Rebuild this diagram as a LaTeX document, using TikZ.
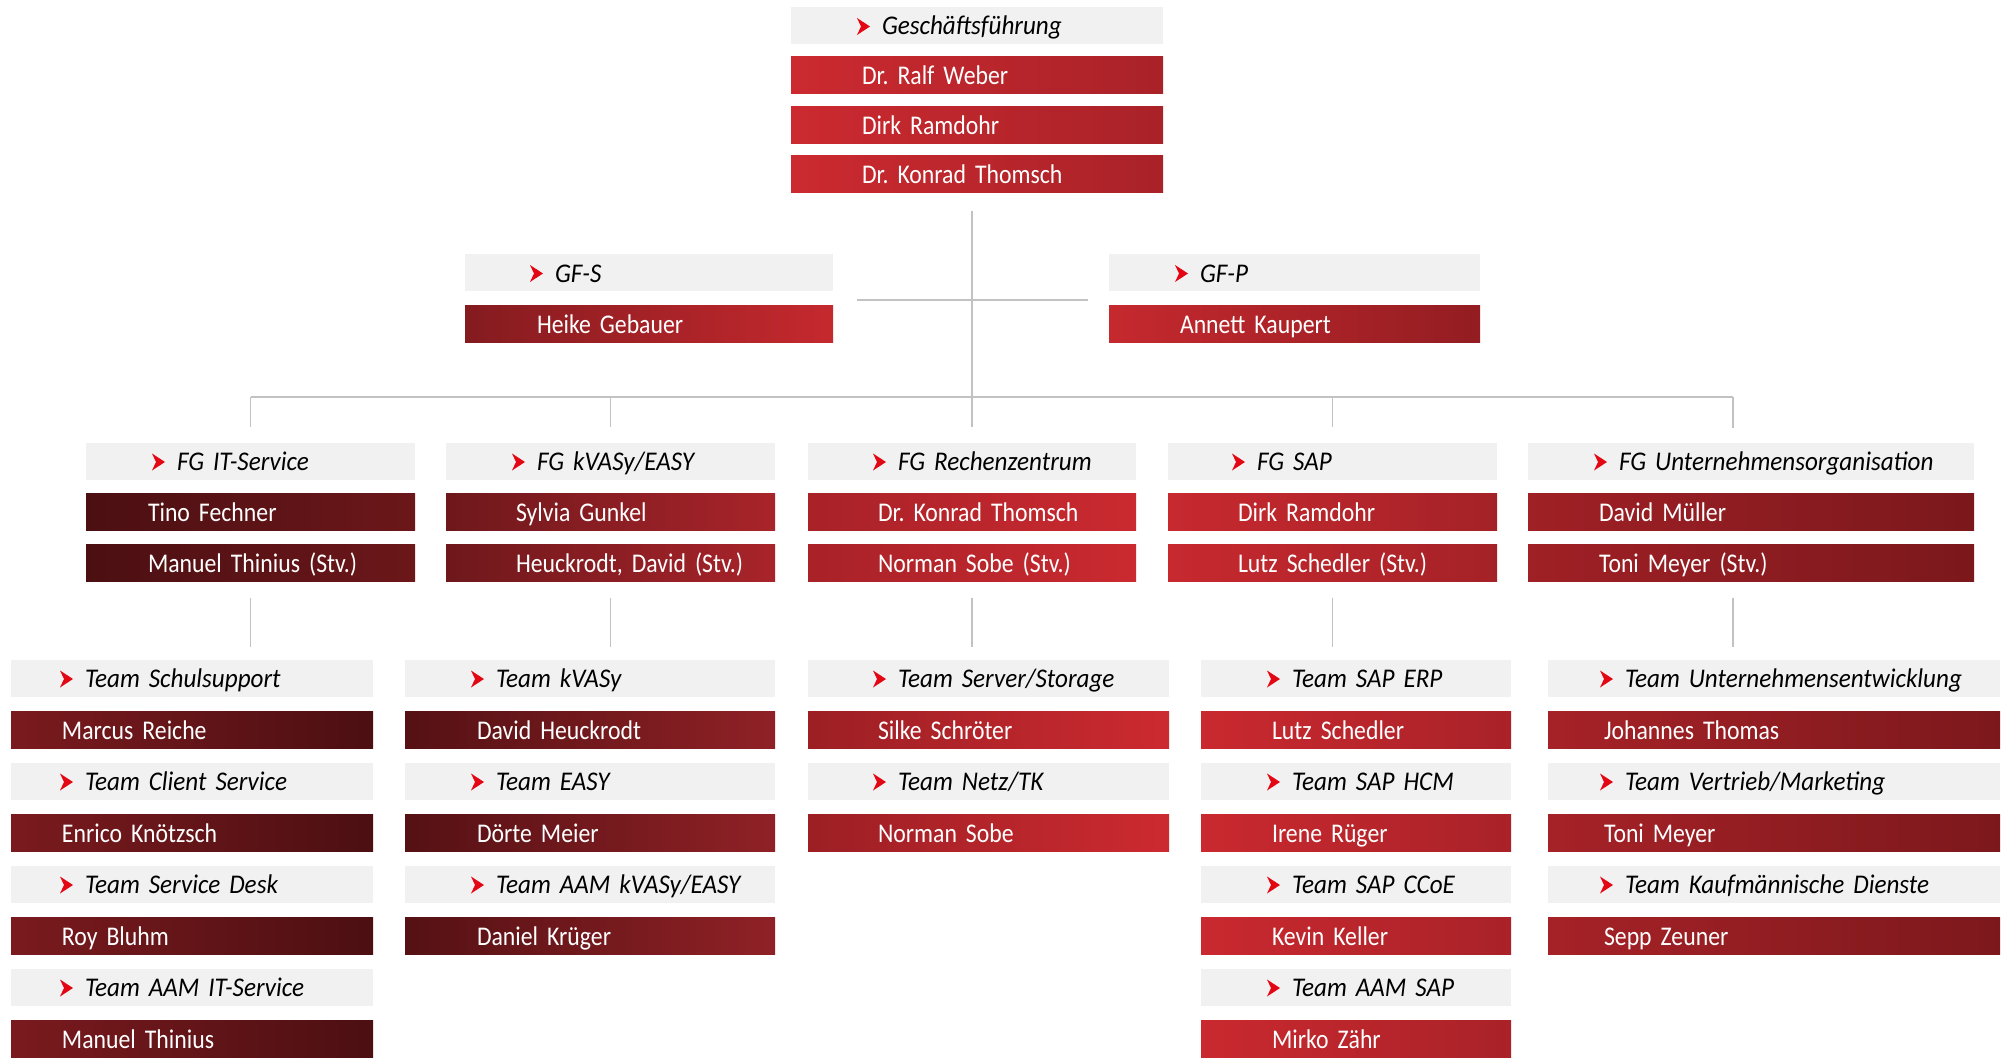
\documentclass[tikz,border=0pt]{standalone}
\usepackage{fontspec}
\setmainfont{Carlito}[FakeStretch=0.88, ItalicFeatures={FakeStretch=0.93}]
\usepackage{tikz}
\usetikzlibrary{positioning,calc}
\frenchspacing

\definecolor{headgray}{HTML}{F1F1F1}
\definecolor{arrowred}{HTML}{E30613}
\definecolor{linegray}{HTML}{C2C2C2}
% left / right shades of the red boxes
\definecolor{gfl}{HTML}{CB2A30}  \definecolor{gfr}{HTML}{A92228}
\definecolor{gfsl}{HTML}{841B1F} \definecolor{gfsr}{HTML}{C5292E}
\definecolor{gfpl}{HTML}{C5292E} \definecolor{gfpr}{HTML}{931D22}
\definecolor{fgal}{HTML}{4B0F12} \definecolor{fgar}{HTML}{6C171A}
\definecolor{fgbl}{HTML}{6E181C} \definecolor{fgbr}{HTML}{A8242A}
\definecolor{fgcl}{HTML}{A82228} \definecolor{fgcr}{HTML}{CA2A30}
\definecolor{fgdl}{HTML}{C7292F} \definecolor{fgdr}{HTML}{A42227}
\definecolor{fgel}{HTML}{9F2025} \definecolor{fger}{HTML}{7B181C}
\definecolor{tmal}{HTML}{7A1A1E} \definecolor{tmar}{HTML}{4C0F12}
\definecolor{tmbl}{HTML}{551114} \definecolor{tmbr}{HTML}{8F2126}
\definecolor{tmcl}{HTML}{9C1F24} \definecolor{tmcr}{HTML}{CC2A30}
\definecolor{tmdl}{HTML}{C9292F} \definecolor{tmdr}{HTML}{A92228}
\definecolor{tmel}{HTML}{A62227} \definecolor{tmer}{HTML}{7C181C}

\newcommand{\headarrow}{\tikz[x=1pt,y=1pt,baseline=0pt]\fill[arrowred] (0,0) -- (13,8.5) -- (0,17) -- (4,8.5) -- cycle;}
\newcommand{\boxstrut}{\rule[-7pt]{0pt}{33pt}}
\tikzset{nind/.store in=\nameind, hind/.store in=\headind, nind=70pt, hind=65pt}

\begin{document}
\begin{tikzpicture}[x=1pt, y=-1pt, node distance=51pt]
\tikzstyle{orgbox}=[rectangle, inner sep=0pt, minimum height=37pt, align=left, font=\fontsize{27pt}{30pt}\selectfont]
\tikzstyle{dept}=[orgbox, fill=headgray, text=black, font=\fontsize{27pt}{30pt}\selectfont\itshape,
  execute at begin node={\hspace*{\headind}\headarrow\hspace*{12pt}\boxstrut}]
\tikzstyle{person}=[orgbox, text=white, execute at begin node={\hspace*{\nameind}\boxstrut}]
\tikzstyle{link}=[draw=linegray, line width=1.5pt]

\useasboundingbox (0,0) rectangle (2004,1057);

% Geschaeftsfuehrung
\begin{scope}[node distance=49.5pt, hind=66pt, nind=71pt, every node/.append style={text width=372pt},
  person/.append style={left color=gfl, right color=gfr}]
\node[dept]	(gf)	at (977,25.5)		{Geschäftsführung};
\node[person]	(weber)	[below of=gf]		{Dr. Ralf Weber};
\node[person]	(ramdohr)	[below of=weber]	{Dirk Ramdohr};
\node[person]	(thomsch)	[below of=ramdohr]	{Dr. Konrad Thomsch};
\end{scope}

\begin{scope}[nind=72pt, every node/.append style={text width=368pt}, person/.append style={left color=gfsl, right color=gfsr}]
\node[dept]	(gfs)	at (649,272.5)		{GF-S};
\node[person]	(gebauer)	[below of=gfs]		{Heike Gebauer};
\end{scope}
\begin{scope}[hind=66pt, nind=71pt, every node/.append style={text width=371pt}, person/.append style={left color=gfpl, right color=gfpr}]
\node[dept]	(gfp)	at (1294.5,272.5)	{GF-P};
\node[person]	(kaupert)	[below of=gfp]		{Annett Kaupert};
\end{scope}

% Fachgruppen
\begin{scope}[every node/.append style={text width=329pt}, person/.append style={left color=fgal, right color=fgar}, hind=66pt, nind=62pt]
\node[dept]	(fgit)	at (250.5,461)		{FG IT-Service};
\node[person]	(fechner)	[below of=fgit]		{Tino Fechner};
\node[person]	(thinius)	[below of=fechner]	{Manuel Thinius (Stv.)};
\end{scope}
\begin{scope}[every node/.append style={text width=329pt}, person/.append style={left color=fgbl, right color=fgbr}, hind=66pt]
\node[dept]	(fgkv)	at (610.5,461)		{FG kVASy/EASY};
\node[person]	(gunkel)	[below of=fgkv]		{Sylvia Gunkel};
\node[person]	(heuck)	[below of=gunkel]	{Heuckrodt, David (Stv.)};
\end{scope}
\begin{scope}[every node/.append style={text width=328pt}, person/.append style={left color=fgcl, right color=fgcr}]
\node[dept]	(fgrz)	at (972,461)		{FG Rechenzentrum};
\node[person]	(thomschrz)	[below of=fgrz]		{Dr. Konrad Thomsch};
\node[person]	(sobe)	[below of=thomschrz]	{Norman Sobe (Stv.)};
\end{scope}
\begin{scope}[every node/.append style={text width=329pt}, person/.append style={left color=fgdl, right color=fgdr}, hind=64pt]
\node[dept]	(fgsap)	at (1332.5,461)		{FG SAP};
\node[person]	(ramdohrsap)	[below of=fgsap]	{Dirk Ramdohr};
\node[person]	(schedler)	[below of=ramdohrsap]	{Lutz Schedler (Stv.)};
\end{scope}
\begin{scope}[every node/.append style={text width=446pt}, person/.append style={left color=fgel, right color=fger}, hind=66pt, nind=71pt]
\node[dept]	(fguo)	at (1751,461)		{FG Unternehmensorganisation};
\node[person]	(mueller)	[below of=fguo]		{David Müller};
\node[person]	(meyer)	[below of=mueller]	{Toni Meyer (Stv.)};
\end{scope}

% Teams
\begin{scope}[node distance=51.5pt, every node/.append style={text width=362pt}, person/.append style={left color=tmal, right color=tmar}, hind=49pt, nind=51pt]
\node[dept]	(schul)	at (192,678)		{Team Schulsupport};
\node[person]	(reiche)	[below of=schul]	{Marcus Reiche};
\node[dept]	(client)	[below of=reiche]	{Team Client Service};
\node[person]	(knoetzsch)	[below of=client]	{Enrico Knötzsch};
\node[dept]	(desk)	[below of=knoetzsch]	{Team Service Desk};
\node[person]	(bluhm)	[below of=desk]		{Roy Bluhm};
\node[dept]	(aamit)	[below of=bluhm]	{Team AAM IT-Service};
\node[person]	(mthinius)	[below of=aamit]	{Manuel Thinius};
\end{scope}
\begin{scope}[node distance=51.5pt, every node/.append style={text width=370pt}, person/.append style={left color=tmbl, right color=tmbr}, hind=66pt, nind=72pt]
\node[dept]	(kvasy)	at (590,678)		{Team kVASy};
\node[person]	(dheuck)	[below of=kvasy]	{David Heuckrodt};
\node[dept]	(easy)	[below of=dheuck]	{Team EASY};
\node[person]	(meier)	[below of=easy]		{Dörte Meier};
\node[dept]	(aamkv)	[below of=meier]	{Team AAM kVASy/EASY};
\node[person]	(krueger)	[below of=aamkv]	{Daniel Krüger};
\end{scope}
\begin{scope}[node distance=51.5pt, every node/.append style={text width=361pt}, person/.append style={left color=tmcl, right color=tmcr}]
\node[dept]	(server)	at (988.5,678)		{Team Server/Storage};
\node[person]	(schroeter)	[below of=server]	{Silke Schröter};
\node[dept]	(netz)	[below of=schroeter]	{Team Netz/TK};
\node[person]	(nsobe)	[below of=netz]		{Norman Sobe};
\end{scope}
\begin{scope}[node distance=51.5pt, every node/.append style={text width=310pt}, person/.append style={left color=tmdl, right color=tmdr}, hind=66pt, nind=71pt]
\node[dept]	(erp)	at (1356,678)		{Team SAP ERP};
\node[person]	(lschedler)	[below of=erp]		{Lutz Schedler};
\node[dept]	(hcm)	[below of=lschedler]	{Team SAP HCM};
\node[person]	(rueger)	[below of=hcm]		{Irene Rüger};
\node[dept]	(ccoe)	[below of=rueger]	{Team SAP CCoE};
\node[person]	(keller)	[below of=ccoe]		{Kevin Keller};
\node[dept]	(aamsap)	[below of=keller]	{Team AAM SAP};
\node[person]	(zaehr)	[below of=aamsap]	{Mirko Zähr};
\end{scope}
\begin{scope}[node distance=51.5pt, every node/.append style={text width=452pt}, person/.append style={left color=tmel, right color=tmer}, hind=52pt, nind=56pt]
\node[dept]	(ue)	at (1774,678)		{Team Unternehmensentwicklung};
\node[person]	(jthomas)	[below of=ue]		{Johannes Thomas};
\node[dept]	(vm)	[below of=jthomas]	{Team Vertrieb/Marketing};
\node[person]	(tmeyer)	[below of=vm]		{Toni Meyer};
\node[dept]	(kd)	[below of=tmeyer]	{Team Kaufmännische Dienste};
\node[person]	(zeuner)	[below of=kd]		{Sepp Zeuner};
\end{scope}

% connectors
\coordinate (stem) at (972,211);
\coordinate (bar) at (972,397);
\coordinate (gfsend) at (857,300);
\coordinate (gfpend) at (1088,300);
\coordinate (uodrop) at (1733,428);

\path[link]
	(stem)			edge	($(fgrz.north)+(0,-15)$)
	(gfsend)		edge	(gfpend)
	(fgit.north |- bar)	edge	(uodrop |- bar)
	(fgit.north |- bar)	edge	($(fgit.north)+(0,-15)$)
	(fgkv.north |- bar)	edge	($(fgkv.north)+(0,-15)$)
	(fgsap.north |- bar)	edge	($(fgsap.north)+(0,-15)$)
	(uodrop |- bar)		edge	(uodrop)
	($(thinius.south)+(0,16)$)	edge	($(thinius.south |- schul.north)+(0,-12)$)
	($(heuck.south)+(0,16)$)	edge	($(heuck.south |- kvasy.north)+(0,-12)$)
	($(sobe.south)+(0,16)$)		edge	($(sobe.south |- server.north)+(0,-12)$)
	($(schedler.south)+(0,16)$)	edge	($(schedler.south |- erp.north)+(0,-12)$)
	($(uodrop |- meyer.south)+(0,16)$)	edge	($(uodrop |- ue.north)+(0,-12)$)
;

\end{tikzpicture}
\end{document}
